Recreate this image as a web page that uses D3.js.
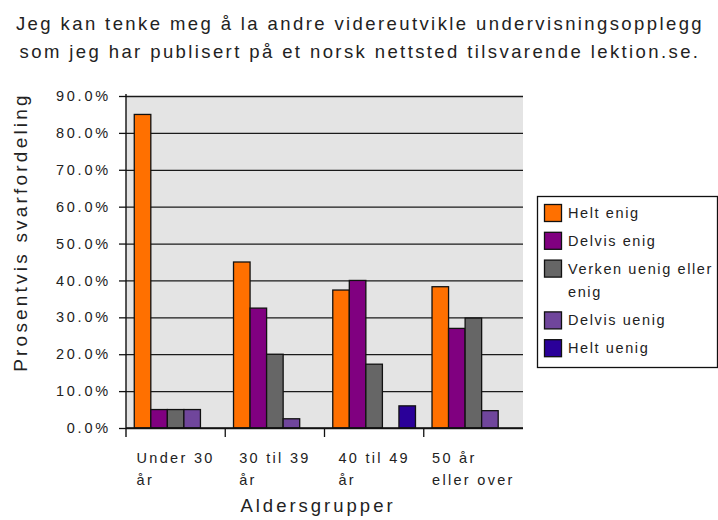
<!DOCTYPE html>
<html>
<head>
<meta charset="utf-8">
<script src="https://cdn.jsdelivr.net/npm/d3@7"></script>
<style>
  body { margin: 0; background: #fff; }
  svg { display: block; font-family: "Liberation Sans", Arial, sans-serif; }
</style>
</head>
<body>
<div id="chart"></div>
<script>
// data
const titleLines = [
  "Jeg kan tenke meg å la andre videreutvikle undervisningsopplegg",
  "som jeg har publisert på  et norsk nettsted tilsvarende lektion.se."
];
const groups = ["Under 30 år", "30 til 39 år", "40 til 49 år", "50 år eller over"];
const groupLines = [["Under 30", "år"], ["30 til 39", "år"], ["40 til 49", "år"], ["50 år", "eller over"]];
const series = ["Helt enig", "Delvis enig", "Verken uenig eller enig", "Delvis uenig", "Helt uenig"];
const seriesLines = [["Helt enig"], ["Delvis enig"], ["Verken uenig eller", "enig"], ["Delvis uenig"], ["Helt uenig"]];
const colors = ["#ff7000", "#800080", "#666666", "#70469c", "#2a0099"];
// percentages per series, one value per age group
const helt_enig    = [85.0, 45.0, 37.4, 38.3];
const delvis_enig  = [5.0, 32.5, 40.0, 27.0];
const verken       = [5.0, 20.0, 17.3, 29.8];
const delvis_uenig = [5.0, 2.5, 0, 4.7];
const helt_uenig   = [0, 0, 6.0, 0];
const values = [helt_enig, delvis_enig, verken, delvis_uenig, helt_uenig];
const yTicks = [0, 10, 20, 30, 40, 50, 60, 70, 80, 90];

const width = 718, height = 520;
const plot = { left: 126, right: 523, top: 96, bottom: 428 };

const svg = d3.select('#chart').append('svg')
  .attr('width', width).attr('height', height);

// title
svg.append('g').selectAll('text')
  .data(titleLines)
  .join('text')
  .attr('x', 360)
  .attr('y', (d, i) => 30 + i * 28)
  .attr('text-anchor', 'middle')
  .style('font-size', '18.5px')
  .style('letter-spacing', '2.4px')
  .style('fill', '#222')
  .text(d => d);

const x0 = d3.scaleBand().domain(groups).range([plot.left, plot.right]);
const x1 = d3.scaleBand().domain(series).range([0, x0.bandwidth()]).paddingOuter(0.5);
const y = d3.scaleLinear().domain([0, 90]).range([plot.bottom, plot.top]);

// plot background
svg.append('rect')
  .attr('x', plot.left).attr('y', plot.top)
  .attr('width', plot.right - plot.left).attr('height', plot.bottom - plot.top)
  .style('fill', '#e4e4e4');

// gridlines
svg.append('g')
  .attr('transform', `translate(${plot.left},0)`)
  .call(d3.axisLeft(y).tickValues(yTicks).tickSize(-(plot.right - plot.left)).tickFormat(''))
  .call(g => g.select('.domain').remove())
  .selectAll('line')
  .style('stroke', '#1a1a1a')
  .style('stroke-width', 1.3);

// bars
const rows = [];
groups.forEach((g, gi) => series.forEach((s, si) => {
  if (values[si][gi] > 0) rows.push({ group: g, series: s, si, value: values[si][gi] });
}));

svg.append('g').selectAll('rect')
  .data(rows)
  .join('rect')
  .attr('x', d => x0(d.group) + x1(d.series))
  .attr('y', d => y(d.value))
  .attr('width', x1.bandwidth())
  .attr('height', d => y(0) - y(d.value))
  .style('fill', d => colors[d.si])
  .style('stroke', '#111')
  .style('stroke-width', 1.3);

// y axis
const yAxis = svg.append('g')
  .attr('transform', `translate(${plot.left},0)`)
  .call(d3.axisLeft(y).tickValues(yTicks).tickSize(7).tickPadding(8)
    .tickFormat(d => d3.format('.1f')(d) + '%'));
yAxis.select('.domain').remove();
yAxis.selectAll('line').style('stroke', '#111').style('stroke-width', 1.3);
yAxis.selectAll('text')
  .style('font-size', '14.5px')
  .style('letter-spacing', '2.8px')
  .style('fill', '#222')
  .style('font-family', '"Liberation Sans", Arial, sans-serif');

svg.append('line')
  .attr('x1', plot.left).attr('x2', plot.left)
  .attr('y1', plot.top - 2).attr('y2', plot.bottom + 9)
  .style('stroke', '#111').style('stroke-width', 1.4);

// x axis line and ticks
svg.append('line')
  .attr('x1', plot.left).attr('x2', plot.right)
  .attr('y1', plot.bottom).attr('y2', plot.bottom)
  .style('stroke', '#111').style('stroke-width', 1.3);
svg.append('g').selectAll('line')
  .data(groups.slice(1))
  .join('line')
  .attr('x1', d => x0(d)).attr('x2', d => x0(d))
  .attr('y1', plot.bottom).attr('y2', plot.bottom + 9)
  .style('stroke', '#111').style('stroke-width', 1.3);

// category labels: block centered, lines left-aligned
groups.forEach((g, gi) => {
  const lab = svg.append('text')
    .style('font-size', '14.5px')
    .style('letter-spacing', '2.3px')
    .style('fill', '#222');
  groupLines[gi].forEach((t, li) => {
    lab.append('tspan').attr('y', 463 + li * 22).text(t);
  });
  const w = d3.max(lab.selectAll('tspan').nodes(), n => n.getComputedTextLength());
  lab.selectAll('tspan').attr('x', x0(g) + x0.bandwidth() / 2 - w / 2);
});

// axis titles
svg.append('text')
  .attr('x', 318).attr('y', 512)
  .attr('text-anchor', 'middle')
  .style('font-size', '18.5px')
  .style('letter-spacing', '3px')
  .style('fill', '#222')
  .text('Aldersgrupper');

svg.append('text')
  .attr('transform', 'translate(27,232) rotate(-90)')
  .attr('text-anchor', 'middle')
  .style('font-size', '19px')
  .style('letter-spacing', '3.2px')
  .style('fill', '#222')
  .text('Prosentvis svarfordeling');

// legend
const legend = svg.append('g');
legend.append('rect')
  .attr('x', 537.5).attr('y', 196.5).attr('width', 180).attr('height', 171)
  .style('fill', '#fff').style('stroke', '#111').style('stroke-width', 1.3);

let ly = 204;
seriesLines.forEach((lines, i) => {
  legend.append('rect')
    .attr('x', 544.5).attr('y', ly + 0.5).attr('width', 17).attr('height', 17)
    .style('fill', colors[i]).style('stroke', '#111').style('stroke-width', 1.3);
  const t = legend.append('text')
    .style('font-size', '14.5px')
    .style('letter-spacing', '1.6px')
    .style('fill', '#222');
  lines.forEach((line, li) => {
    t.append('tspan').attr('x', 568).attr('y', ly + 14 + li * 23).text(line);
  });
  ly += 27.8 + (lines.length - 1) * 24;
});
</script>
</body>
</html>
